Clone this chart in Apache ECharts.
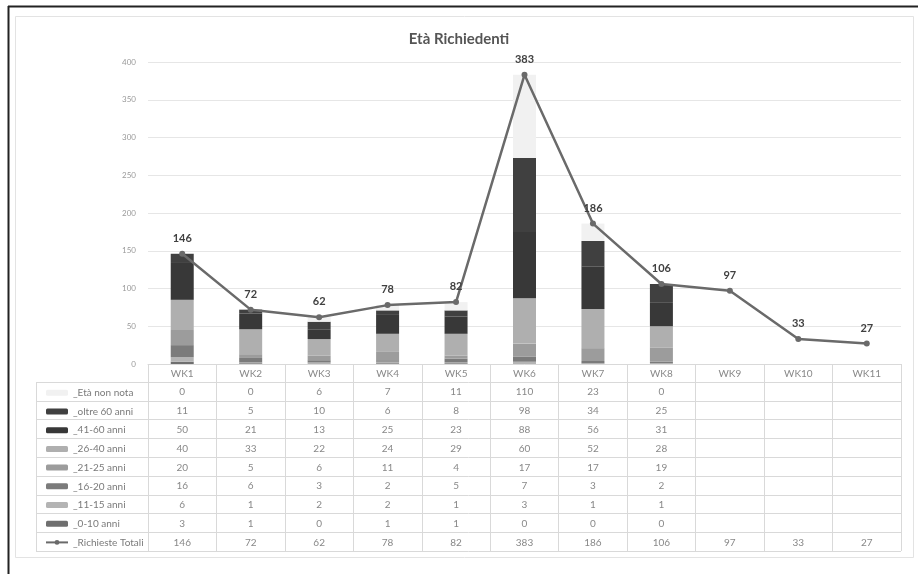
<!DOCTYPE html>
<html>
<head>
<meta charset="utf-8">
<script src="https://cdn.jsdelivr.net/npm/echarts@6/dist/echarts.min.js"></script>
<style>
  html, body { margin: 0; padding: 0; background: #fff; }
  #chart { width: 918px; height: 574px; }
</style>
</head>
<body>
<div id="chart"></div>
<script>
// Weeks
const weeks = ['WK1', 'WK2', 'WK3', 'WK4', 'WK5', 'WK6', 'WK7', 'WK8', 'WK9', 'WK10', 'WK11'];

// Requests per age band (null = no breakdown available)
const etaNonNota = [0, 0, 6, 7, 11, 110, 23, 0, null, null, null];
const oltre60    = [11, 5, 10, 6, 8, 98, 34, 25, null, null, null];
const anni41_60  = [50, 21, 13, 25, 23, 88, 56, 31, null, null, null];
const anni26_40  = [40, 33, 22, 24, 29, 60, 52, 28, null, null, null];
const anni21_25  = [20, 5, 6, 11, 4, 17, 17, 19, null, null, null];
const anni16_20  = [16, 6, 3, 2, 5, 7, 3, 2, null, null, null];
const anni11_15  = [6, 1, 2, 2, 1, 3, 1, 1, null, null, null];
const anni0_10   = [3, 1, 0, 1, 1, 0, 0, 0, null, null, null];
const richiesteTotali = [146, 72, 62, 78, 82, 383, 186, 106, 97, 33, 27];

// Y axis ticks
const yTicks = [0, 50, 100, 150, 200, 250, 300, 350, 400];

const FONT = 'Lato, "Open Sans", sans-serif';

// Stacked bands, bottom to top
const bands = [
  { name: '_0-10 anni',    data: anni0_10,   color: '#6f6f6f' },
  { name: '_11-15 anni',   data: anni11_15,  color: '#b4b4b4' },
  { name: '_16-20 anni',   data: anni16_20,  color: '#7b7b7b' },
  { name: '_21-25 anni',   data: anni21_25,  color: '#9c9c9c' },
  { name: '_26-40 anni',   data: anni26_40,  color: '#afafaf' },
  { name: '_41-60 anni',   data: anni41_60,  color: '#383838' },
  { name: '_oltre 60 anni', data: oltre60,   color: '#404040' },
  { name: '_Età non nota', data: etaNonNota, color: '#f1f1f1' }
];

// Rows of the data table, in display order
const tableRows = [etaNonNota, oltre60, anni41_60, anni26_40, anni21_25, anni16_20, anni11_15, anni0_10, richiesteTotali];
const legendOrder = ['_Età non nota', '_oltre 60 anni', '_41-60 anni', '_26-40 anni', '_21-25 anni',
                     '_16-20 anni', '_11-15 anni', '_0-10 anni', '_Richieste Totali'];

// Table geometry
const GRID_LEFT = 148, GRID_RIGHT = 17, GRID_TOP = 62, GRID_BOTTOM_Y = 364;
const ROW_H = 18.8;
const TABLE_LEFT = 36;
const TABLE_RIGHT = 918 - GRID_RIGHT;
const nRows = tableRows.length + 1;
const tableBottom = GRID_BOTTOM_Y + ROW_H * nRows;

const tableLines = [];
for (let i = 1; i <= nRows; i++) {
  const y = Math.round(GRID_BOTTOM_Y + ROW_H * i - 1) + 0.5;
  tableLines.push({
    type: 'line', silent: true,
    shape: { x1: TABLE_LEFT, y1: y, x2: TABLE_RIGHT, y2: y },
    style: { stroke: '#d9d9d9', lineWidth: 1 }
  });
}
tableLines.push({
  type: 'line', silent: true,
  shape: { x1: TABLE_LEFT + 0.5, y1: Math.round(GRID_BOTTOM_Y + ROW_H - 1) + 0.5, x2: TABLE_LEFT + 0.5, y2: Math.round(tableBottom - 1) + 0.5 },
  style: { stroke: '#d9d9d9', lineWidth: 1 }
});

const series = bands.map(b => ({
  name: b.name,
  type: 'bar',
  stack: 'eta',
  data: b.data,
  barWidth: 23,
  itemStyle: { color: b.color },
  emphasis: { disabled: true }
}));

series.push({
  name: '_Richieste Totali',
  type: 'line',
  data: richiesteTotali,
  z: 5,
  symbol: 'circle',
  symbolSize: 6,
  lineStyle: { color: '#6a6a6a', width: 2.5 },
  itemStyle: { color: '#6a6a6a' },
  label: {
    show: true, position: 'top', distance: 7,
    fontFamily: FONT, fontSize: 11, fontWeight: 'bold', color: '#404040'
  },
  emphasis: { disabled: true }
});

const chart = echarts.init(document.getElementById('chart'), null, { renderer: 'canvas' });
chart.setOption({
  backgroundColor: '#ffffff',
  animation: false,
  title: {
    text: 'Età Richiedenti',
    left: 'center', top: 27,
    textStyle: { fontFamily: FONT, fontSize: 15, fontWeight: 'bold', color: '#555555' }
  },
  legend: {
    data: legendOrder,
    orient: 'vertical',
    left: 40, top: GRID_BOTTOM_Y + ROW_H,
    itemWidth: 22, itemHeight: 6, itemGap: 8.7,
    selectedMode: false,
    textStyle: { fontFamily: FONT, fontSize: 10, color: '#7a7a7a' }
  },
  grid: { left: GRID_LEFT, right: GRID_RIGHT, top: GRID_TOP, bottom: 574 - GRID_BOTTOM_Y, containLabel: false },
  xAxis: {
    type: 'category',
    data: weeks,
    boundaryGap: true,
    axisLine: { lineStyle: { color: '#d9d9d9' } },
    axisTick: { show: true, interval: 0, length: tableBottom - GRID_BOTTOM_Y - 1, lineStyle: { color: '#d9d9d9' } },
    axisLabel: {
      interval: 0, margin: 0,
      fontFamily: FONT, fontSize: 10, color: '#888888', lineHeight: ROW_H,
      verticalAlign: 'top',
      formatter: (value, idx) => {
        const lines = [value];
        tableRows.forEach(r => lines.push(r[idx] == null ? ' ' : String(r[idx])));
        return lines.join('\n');
      }
    }
  },
  yAxis: {
    type: 'value',
    min: 0, max: yTicks[yTicks.length - 1], interval: yTicks[1] - yTicks[0],
    axisLine: { show: false },
    axisTick: { show: false },
    axisLabel: { fontFamily: FONT, fontSize: 8, color: '#9a9a9a', margin: 12 },
    splitLine: { lineStyle: { color: '#e6e6e6' } }
  },
  graphic: [
    // outer frame
    { type: 'line', silent: true, shape: { x1: 8, y1: 6.5, x2: 918, y2: 6.5 }, style: { stroke: '#222', lineWidth: 2 } },
    { type: 'line', silent: true, shape: { x1: 8.5, y1: 6, x2: 8.5, y2: 574 }, style: { stroke: '#222', lineWidth: 2 } },
    { type: 'rect', silent: true, shape: { x: 15.5, y: 16.5, width: 898, height: 541 }, style: { fill: null, stroke: '#e3e3e3', lineWidth: 1 } },
    ...tableLines
  ],
  series: series
});
</script>
</body>
</html>
